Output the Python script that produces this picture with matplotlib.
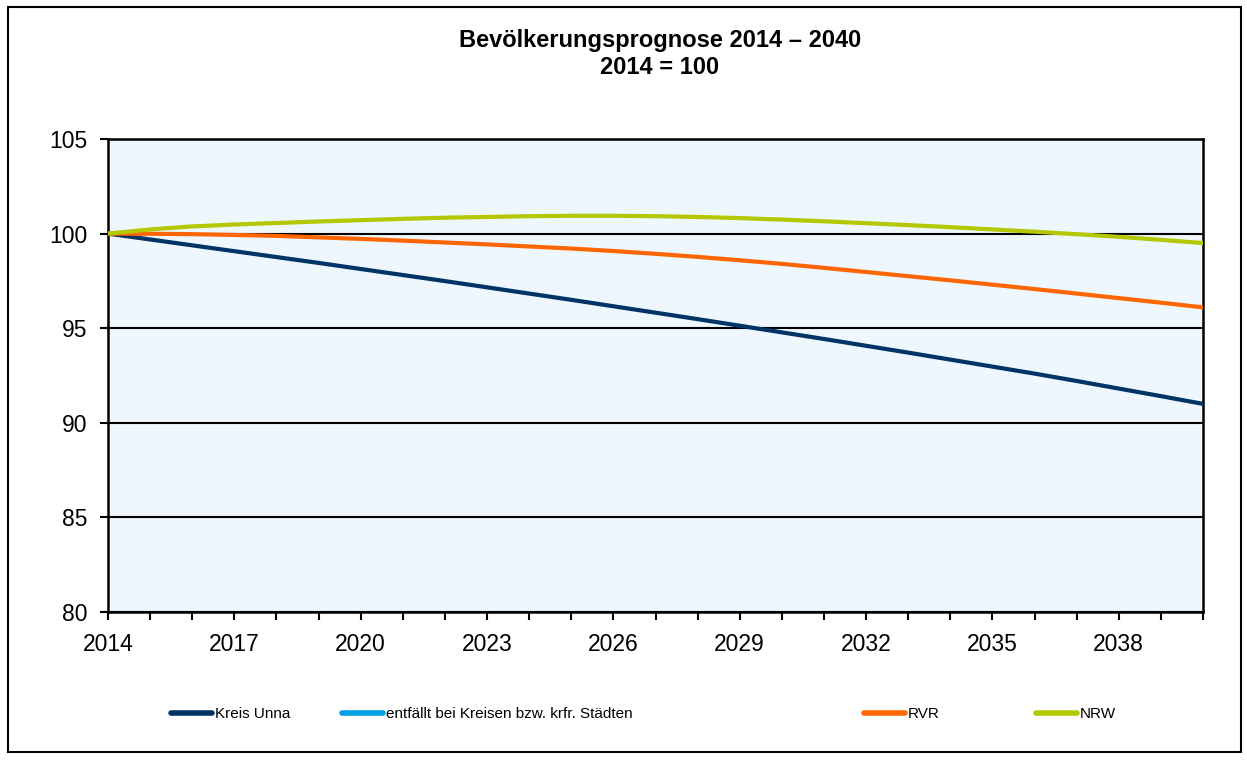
import matplotlib.pyplot as plt
from matplotlib.patches import Rectangle
from matplotlib.lines import Line2D

plt.rcParams['font.family'] = ['Liberation Sans', 'DejaVu Sans']

years = list(range(2014, 2041))

kreis_unna = [100.0, 99.69, 99.38, 99.07, 98.76, 98.45, 98.13, 97.81, 97.49, 97.16,
              96.83, 96.50, 96.16, 95.82, 95.48, 95.13, 94.78, 94.43, 94.07, 93.71,
              93.34, 92.97, 92.60, 92.21, 91.81, 91.41, 91.0]
rvr = [100.0, 99.99, 99.97, 99.93, 99.88, 99.80, 99.72, 99.63, 99.53, 99.43,
       99.32, 99.21, 99.08, 98.93, 98.77, 98.59, 98.40, 98.19, 97.97, 97.75,
       97.53, 97.30, 97.07, 96.83, 96.59, 96.35, 96.10]
nrw = [100.0, 100.22, 100.38, 100.48, 100.56, 100.64, 100.71, 100.78, 100.84, 100.88,
       100.92, 100.94, 100.94, 100.92, 100.88, 100.82, 100.74, 100.65, 100.55, 100.45,
       100.34, 100.22, 100.10, 99.97, 99.83, 99.67, 99.5]

labels = ['Kreis Unna', 'entfällt bei Kreisen bzw. krfr. Städten', 'RVR', 'NRW']
colors = ['#003366', '#00A0E3', '#FF6600', '#B3C800']

fig = plt.figure(figsize=(12.47, 7.6), dpi=100)
fig.patches.append(Rectangle((8 / 1247, 8 / 760), 1233 / 1247, 745 / 760,
                             transform=fig.transFigure, fill=False,
                             edgecolor='black', linewidth=1.5))

ax = fig.add_axes([108 / 1247, 1 - 612 / 760, (1203 - 108) / 1247, (612 - 139) / 760])
ax.set_facecolor('#EEF6FE')

ax.plot(years, kreis_unna, color=colors[0], lw=3, solid_capstyle='butt', zorder=3)
ax.plot(years, rvr, color=colors[2], lw=3, solid_capstyle='butt', zorder=3)
ax.plot(years, nrw, color=colors[3], lw=3, solid_capstyle='butt', zorder=3)

ax.set_xlim(2014, 2040)
ax.set_ylim(80, 105)
ax.set_xticks(years)
ax.set_xticklabels([str(y) if (y - 2014) % 3 == 0 else '' for y in years])
ax.set_yticks([80, 85, 90, 95, 100, 105])
ax.tick_params(axis='both', direction='out', length=6, width=1.5, labelsize=16.5, pad=9)
ax.yaxis.grid(True, color='black', lw=1.5, zorder=1)
ax.set_axisbelow(True)
for s in ax.spines.values():
    s.set_linewidth(1.8)

fig.text(660 / 1247, 1 - 40 / 760, 'Bevölkerungsprognose 2014 – 2040', ha='center', va='center',
         fontsize=17, fontweight='bold')
fig.text(660 / 1247, 1 - 68 / 760, '2014 = 100', ha='center', va='center',
         fontsize=17, fontweight='bold')

# legend entries at the positions of the original
leg_x = [171, 342, 864, 1036]
for lab, col, x in zip(labels, colors, leg_x):
    h = Line2D([], [], color=col, lw=4, solid_capstyle='round')
    fig.legend([h], [lab], loc='center left', bbox_to_anchor=(x / 1247, 1 - 714 / 760),
               frameon=False, fontsize=11, handlelength=2.7, handletextpad=0.15,
               borderpad=0, borderaxespad=0)

fig.savefig('out.png', dpi=100)
